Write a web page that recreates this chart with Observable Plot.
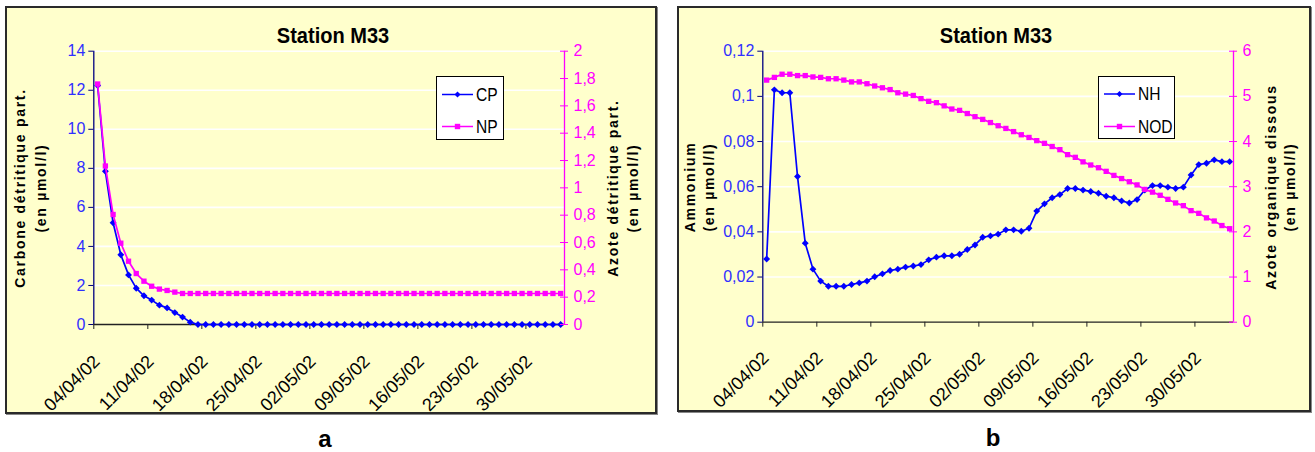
<!DOCTYPE html>
<html><head><meta charset="utf-8">
<script src="https://cdn.jsdelivr.net/npm/d3@7"></script>
<script src="https://cdn.jsdelivr.net/npm/@observablehq/plot@0.6"></script>
<style>
body{margin:0;background:#fff;font-family:"Liberation Sans",Arial,sans-serif;}
#page{position:relative;width:1315px;height:452px;overflow:hidden;background:#fff;}
.panel{position:absolute;box-sizing:border-box;background:#FFFFCC;border:2px solid #2a2a2a;box-shadow:1px 1px 0 #888;}
.layer{position:absolute;top:0;}
.layer svg{display:block;overflow:visible;}
.title{position:absolute;font-weight:bold;font-size:22px;white-space:nowrap;transform:translate(-50%,-50%) scaleX(0.91);}
.ylab{position:absolute;font-weight:bold;font-size:14px;letter-spacing:1.7px;white-space:nowrap;transform:translate(-50%,-50%) rotate(-90deg);}
.legend{position:absolute;background:#fff;border:1px solid #000;box-sizing:border-box;}
.legend .lt{position:absolute;font-size:19px;white-space:nowrap;transform:translateY(-50%) scaleX(0.82);transform-origin:left center;}
.legend svg{position:absolute;left:0;top:0;}
.cap{position:absolute;font-weight:bold;font-size:24px;transform:translate(-50%,-50%);}
</style></head>
<body>
<div id="page">
  <div class="panel" style="left:5px;top:6px;width:652px;height:408px"></div>
  <div class="panel" style="left:677px;top:6px;width:634px;height:406px"></div>
  <div class="layer" id="a1" style="left:0"></div>
  <div class="layer" id="a2" style="left:0"></div>
  <div class="layer" id="b1" style="left:660px"></div>
  <div class="layer" id="b2" style="left:660px"></div>
</div>
<script>
// ---------- data ----------
const startDate = "2002-04-04";
const endDate = "2002-06-04";
const xTickLabels = ["04/04/02","11/04/02","18/04/02","25/04/02","02/05/02","09/05/02","16/05/02","23/05/02","30/05/02"];

// panel a
const CP = [12.24,7.85,5.21,3.57,2.54,1.86,1.47,1.25,0.99,0.85,0.61,0.38,0.12,
  0,0,0,0,0,0,0,0,0,0,0,0,0,0,0,0,0,0,0,0,0,0,0,0,0,0,0,0,0,0,0,0,0,0,0,0,0,0,0,0,0,0,0,0,0,0,0,0];
const NP = [1.76,1.16,0.805,0.595,0.463,0.373,0.317,0.28,0.259,0.249,0.237,
  0.227,0.227,0.227,0.227,0.227,0.227,0.227,0.227,0.227,0.227,
  0.227,0.227,0.227,0.227,0.227,0.227,0.227,0.227,0.227,0.227,
  0.227,0.227,0.227,0.227,0.227,0.227,0.227,0.227,0.227,0.227,
  0.227,0.227,0.227,0.227,0.227,0.227,0.227,0.227,0.227,0.227,
  0.227,0.227,0.227,0.227,0.227,0.227,0.227,0.227,0.227,0.227];
const yTicksA = [0,2,4,6,8,10,12,14];
const y2TicksA = [0,0.2,0.4,0.6,0.8,1,1.2,1.4,1.6,1.8,2];

// panel b
const NH = [0.0280,0.1029,0.1016,0.1016,0.0645,0.0350,0.0235,0.0182,0.0159,0.0159,
  0.0159,0.0167,0.0174,0.0182,0.0201,0.0214,0.0229,0.0235,0.0244,0.0249,
  0.0255,0.0276,0.0288,0.0294,0.0294,0.0301,0.0322,0.0342,0.0376,0.0382,
  0.0390,0.0409,0.0409,0.0403,0.0416,0.0492,0.0524,0.0551,0.0565,0.0592,
  0.0592,0.0585,0.0579,0.0571,0.0558,0.0551,0.0537,0.0528,0.0543,0.0585,
  0.0605,0.0605,0.0598,0.0592,0.0598,0.0652,0.0698,0.0704,0.0719,0.0711,0.0711];
const NOD = [5.36,5.42,5.49,5.49,5.46,5.46,5.43,5.42,5.39,5.39,
  5.36,5.32,5.32,5.28,5.23,5.19,5.15,5.08,5.05,5.02,
  4.95,4.89,4.86,4.79,4.72,4.69,4.62,4.55,4.49,4.42,
  4.35,4.29,4.22,4.15,4.09,4.02,3.96,3.89,3.82,3.71,
  3.65,3.55,3.48,3.42,3.34,3.25,3.18,3.11,3.04,2.94,
  2.88,2.81,2.72,2.64,2.58,2.47,2.41,2.31,2.24,2.14,2.07];
const yTicksB = [0,0.02,0.04,0.06,0.08,0.1,0.12];
const y2TicksB = [0,1,2,3,4,5,6];

// ---------- helpers ----------
const BLUE = "#0000ff", MAG = "#ff00ff", NAVY = "#000080", TICKBLUE = "#2f2fff";
const parse = d3.utcParse("%Y-%m-%d");
const parseTick = d3.utcParse("%d/%m/%y");
const x0 = parse(startDate), x1 = parse(endDate);
const days = d3.utcDay.range(x0, x1);
const xTicks = xTickLabels.map(parseTick);
const fmtTick = d3.utcFormat("%d/%m/%y");
const comma = d => String(+d.toFixed(3)).replace(".", ",");
const series = vals => vals.map((v, i) => ({t: d3.utcHour.offset(days[i], 12), v}));
const FONT = "'Liberation Sans', Arial, sans-serif";

function primary({w, m, yDomain, yTicks, data, labelDy}) {
  return Plot.plot({
    width: w, height: 420,
    marginLeft: m[0], marginRight: m[1], marginTop: m[2], marginBottom: m[3],
    style: {background: "transparent", overflow: "visible", fontFamily: FONT, fontSize: "14px"},
    x: {type: "utc", domain: [x0, x1]},
    y: {domain: yDomain},
    marks: [
      Plot.gridY(yTicks.filter(d => d > 0), {stroke: "#ffffff", strokeOpacity: 1, strokeWidth: 1.6}),
      Plot.ruleY(yTicks, {y: d => d, x1: () => x0, x2: () => x0, insetLeft: -5, stroke: NAVY, strokeWidth: 1}),
      Plot.axisY(yTicks, {anchor: "left", tickSize: 0, tickPadding: 8.5, tickFormat: comma, color: TICKBLUE, fontSize: 16, label: null}),
      Plot.axisX(xTicks, {tickSize: 5, tickFormat: () => "", stroke: "#222", label: null}),
      Plot.text(xTicks, {x: d => d, frameAnchor: "bottom", text: d => fmtTick(d), rotate: -45, textAnchor: "end", lineAnchor: "middle", dx: 3, dy: labelDy, fontSize: 18, fill: "#000"}),
      Plot.ruleX([x0], {stroke: NAVY, strokeWidth: 1.3}),
      Plot.ruleY([yDomain[0]], {stroke: "#222", strokeWidth: 1.3}),
      Plot.line(data, {x: "t", y: "v", stroke: BLUE, strokeWidth: 1.7}),
      Plot.dot(data, {x: "t", y: "v", symbol: "diamond2", r: 3.1, fill: BLUE, stroke: "none"})
    ]
  });
}
function secondary({w, m, yDomain, yTicks, data}) {
  return Plot.plot({
    width: w, height: 420,
    marginLeft: m[0], marginRight: m[1], marginTop: m[2], marginBottom: m[3],
    style: {background: "transparent", overflow: "visible", fontFamily: FONT, fontSize: "14px"},
    x: {type: "utc", domain: [x0, x1], axis: null},
    y: {domain: yDomain, axis: null},
    marks: [
      Plot.ruleX([x1], {stroke: MAG, strokeWidth: 1.3}),
      Plot.ruleY(yTicks, {y: d => d, x1: () => x1, x2: () => x1, insetLeft: -4, insetRight: -4, stroke: MAG, strokeWidth: 1}),
      Plot.axisY(yTicks, {anchor: "right", tickSize: 0, tickPadding: 9, tickFormat: comma, color: MAG, fontSize: 16, label: null}),
      Plot.line(data, {x: "t", y: "v", stroke: MAG, strokeWidth: 1.7}),
      Plot.dot(data, {x: "t", y: "v", symbol: "square", r: 3.0, fill: MAG, stroke: "none"})
    ]
  });
}

const mA = [93.3, 96, 50.7, 96];
const mB = [102.3, 82, 50.7, 98.3];
document.getElementById("a1").append(primary({w: 660, m: mA, yDomain: [0, 14], yTicks: yTicksA, data: series(CP), labelDy: 34}));
document.getElementById("a2").append(secondary({w: 660, m: mA, yDomain: [0, 2], yTicks: y2TicksA, data: series(NP)}));
document.getElementById("b1").append(primary({w: 655, m: mB, yDomain: [0, 0.12], yTicks: yTicksB, data: series(NH), labelDy: 33}));
document.getElementById("b2").append(secondary({w: 655, m: mB, yDomain: [0, 6], yTicks: y2TicksB, data: series(NOD)}));

// ---------- text & legends ----------
const page = document.getElementById("page");
function addDiv(cls, text, x, y) {
  const d = document.createElement("div");
  d.className = cls; d.textContent = text;
  d.style.left = x + "px"; d.style.top = y + "px";
  page.append(d); return d;
}
addDiv("title", "Station M33", 332.5, 35.5);
addDiv("title", "Station M33", 996, 35.5);
addDiv("ylab", "Carbone détritique part.", 20, 188);
addDiv("ylab", "(en µmol/l)", 41, 188);
addDiv("ylab", "Azote détritique part.", 613, 188);
addDiv("ylab", "(en µmol/l)", 633, 188);
addDiv("ylab", "Ammonium", 690, 187);
addDiv("ylab", "(en µmol/l)", 709, 187);
addDiv("ylab", "Azote organique dissous", 1271, 187);
addDiv("ylab", "(en µmol/l)", 1290, 187);
addDiv("cap", "a", 325, 439);
addDiv("cap", "b", 993, 438);

function legend(x, y, w, h, items) {
  const d = document.createElement("div");
  d.className = "legend";
  Object.assign(d.style, {left: x + "px", top: y + "px", width: w + "px", height: h + "px"});
  const ns = "http://www.w3.org/2000/svg";
  const svg = document.createElementNS(ns, "svg");
  svg.setAttribute("width", w); svg.setAttribute("height", h);
  items.forEach(it => {
    const ln = document.createElementNS(ns, "line");
    ln.setAttribute("x1", 5); ln.setAttribute("x2", 36);
    ln.setAttribute("y1", it.y); ln.setAttribute("y2", it.y);
    ln.setAttribute("stroke", it.color); ln.setAttribute("stroke-width", 1.5);
    svg.append(ln);
    const p = document.createElementNS(ns, "path");
    const cx = 20.5, cy = it.y;
    p.setAttribute("d", it.sym === "diamond"
      ? `M${cx},${cy-3}L${cx+3},${cy}L${cx},${cy+3}L${cx-3},${cy}Z`
      : `M${cx-2.7},${cy-2.7}h5.4v5.4h-5.4Z`);
    p.setAttribute("fill", it.color);
    svg.append(p);
    const t = document.createElement("div");
    t.className = "lt"; t.textContent = it.label;
    t.style.left = "39px"; t.style.top = it.y + "px";
    d.append(t);
  });
  d.prepend(svg);
  page.append(d);
}
legend(436, 76, 68, 64, [{label: "CP", color: BLUE, sym: "diamond", y: 17.5}, {label: "NP", color: MAG, sym: "square", y: 49.5}]);
legend(1098, 76, 77, 63, [{label: "NH", color: BLUE, sym: "diamond", y: 17}, {label: "NOD", color: MAG, sym: "square", y: 49.5}]);
</script>
</body></html>
